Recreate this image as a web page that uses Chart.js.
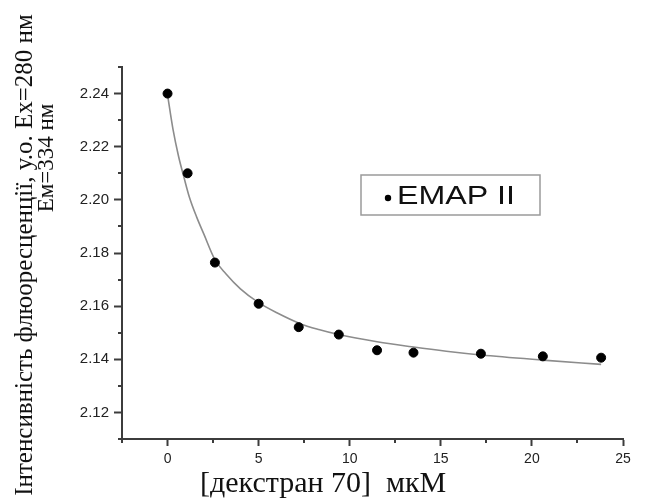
<!DOCTYPE html>
<html>
<head>
<meta charset="utf-8">
<script src="https://cdn.jsdelivr.net/npm/chart.js@4/dist/chart.umd.min.js"></script>
<style>
  html, body { margin: 0; padding: 0; background: #fff; }
  #wrap { position: relative; width: 646px; height: 499px; }
</style>
</head>
<body>
<div id="wrap"><canvas id="chart" width="646" height="499"></canvas></div>
<script>
// measured points (x in мкМ, y in у.о.)
const concX = [0, 1.1, 2.6, 5.0, 7.2, 9.4, 11.5, 13.5, 17.2, 20.6, 23.8];
const intensity = [2.2400, 2.2100, 2.1764, 2.1609, 2.1521, 2.1493, 2.1434, 2.1425, 2.1421, 2.1411, 2.1406];

// fitted curve
const fitX = [0, 0.3, 0.6, 0.9, 1.2, 1.6, 2.0, 2.6, 3.2, 4.0, 5.0, 6.0, 7.25, 8.3, 9.4, 11.5, 13.5, 15.3, 17.2, 20.6, 23.8];
const fitY = [2.2395, 2.2265, 2.2165, 2.2085, 2.2010, 2.1935, 2.1870, 2.1775, 2.1722, 2.1665, 2.1613, 2.1575, 2.1535, 2.1512, 2.1493, 2.1466, 2.1446, 2.1430, 2.1416, 2.1397, 2.1381];

const seriesName = "EMAP II";
const yTitle1 = "Інтенсивність флюоресценції, у.о. Ex=280 нм";
const yTitle2 = "Ем=334 нм";
const xTitle = "[декстран 70]  мкМ";

const axisColor = "#3c3c3c";
const isMajorY = v => Math.round(v * 100) % 2 === 0;
const isMajorX = v => Math.abs(v % 5) < 1e-6;

const extras = {
  id: "extras",
  afterDraw(chart) {
    const ctx = chart.ctx;
    const xs = chart.scales.x, ys = chart.scales.y;
    ctx.save();
    // minor ticks
    ctx.strokeStyle = axisColor;
    ctx.lineWidth = 2;
    ys.ticks.forEach(t => {
      if (isMajorY(t.value)) return;
      const py = Math.round(ys.getPixelForValue(t.value));
      ctx.beginPath();
      ctx.moveTo(xs.left - 4, py);
      ctx.lineTo(xs.left, py);
      ctx.stroke();
    });
    xs.ticks.forEach(t => {
      if (isMajorX(t.value)) return;
      const px = Math.round(xs.getPixelForValue(t.value));
      ctx.beginPath();
      ctx.moveTo(px, ys.bottom);
      ctx.lineTo(px, ys.bottom + 4);
      ctx.stroke();
    });

    // legend box
    ctx.strokeStyle = "#9a9a9a";
    ctx.lineWidth = 1.5;
    ctx.strokeRect(361, 175, 179, 40);
    ctx.fillStyle = "#000";
    ctx.beginPath();
    ctx.arc(388, 198, 3.2, 0, Math.PI * 2);
    ctx.fill();
    ctx.font = "25px 'Liberation Sans', Arial, sans-serif";
    const lw = ctx.measureText(seriesName).width;
    ctx.save();
    ctx.translate(397, 204);
    ctx.scale(118 / lw, 1);
    ctx.fillStyle = "#111";
    ctx.textBaseline = "alphabetic";
    ctx.fillText(seriesName, 0, 0);
    ctx.restore();

    // axis titles
    ctx.fillStyle = "#111";
    ctx.textAlign = "center";
    ctx.textBaseline = "middle";
    ctx.font = "25px 'Liberation Serif', 'Times New Roman', serif";
    ctx.save();
    ctx.translate(25, 255);
    ctx.rotate(-Math.PI / 2);
    ctx.fillText(yTitle1, 0, 0);
    ctx.restore();
    ctx.font = "23px 'Liberation Serif', 'Times New Roman', serif";
    ctx.save();
    ctx.translate(47, 158);
    ctx.rotate(-Math.PI / 2);
    ctx.fillText(yTitle2, 0, 0);
    ctx.restore();

    ctx.font = "30px 'Liberation Serif', 'Times New Roman', serif";
    ctx.textAlign = "left";
    ctx.textBaseline = "alphabetic";
    ctx.fillText(xTitle, 200, 492);
    ctx.restore();
  }
};

new Chart(document.getElementById("chart"), {
  type: "scatter",
  data: {
    datasets: [
      {
        label: "fit",
        data: fitX.map((x, i) => ({ x, y: fitY[i] })),
        showLine: true,
        borderColor: "#8c8c8c",
        borderWidth: 1.6,
        pointRadius: 0,
        cubicInterpolationMode: "monotone",
        order: 2
      },
      {
        label: seriesName,
        data: concX.map((x, i) => ({ x, y: intensity[i] })),
        backgroundColor: "#000",
        borderColor: "#000",
        pointRadius: 4.5,
        order: 1
      }
    ]
  },
  options: {
    responsive: false,
    animation: false,
    layout: { padding: { left: 0, top: 67, right: 23, bottom: 0 } },
    plugins: { legend: { display: false }, tooltip: { enabled: false } },
    scales: {
      x: {
        type: "linear",
        min: -2.5,
        max: 25,
        afterFit: s => { s.height = 60; },
        border: { color: axisColor, width: 2 },
        grid: {
          drawOnChartArea: false,
          tickLength: 7,
          tickWidth: 2,
          tickColor: c => (c.tick && isMajorX(c.tick.value) ? axisColor : "rgba(0,0,0,0)")
        },
        ticks: {
          stepSize: 2.5,
          padding: 5,
          color: "#222",
          font: { family: "'Liberation Sans', Arial, sans-serif", size: 14 },
          callback: v => (isMajorX(v) && v >= 0 ? String(v) : "")
        }
      },
      y: {
        type: "linear",
        min: 2.11,
        max: 2.25,
        afterFit: s => { s.width = 122; },
        border: { color: axisColor, width: 2 },
        grid: {
          drawOnChartArea: false,
          tickLength: 8,
          tickWidth: 2,
          tickColor: c => (c.tick && isMajorY(c.tick.value) ? axisColor : "rgba(0,0,0,0)")
        },
        ticks: {
          stepSize: 0.01,
          autoSkip: false,
          padding: 5,
          color: "#222",
          font: { family: "'Liberation Sans', Arial, sans-serif", size: 15 },
          callback: v => (isMajorY(v) ? v.toFixed(2) : "")
        }
      }
    }
  },
  plugins: [extras]
});
</script>
</body>
</html>
